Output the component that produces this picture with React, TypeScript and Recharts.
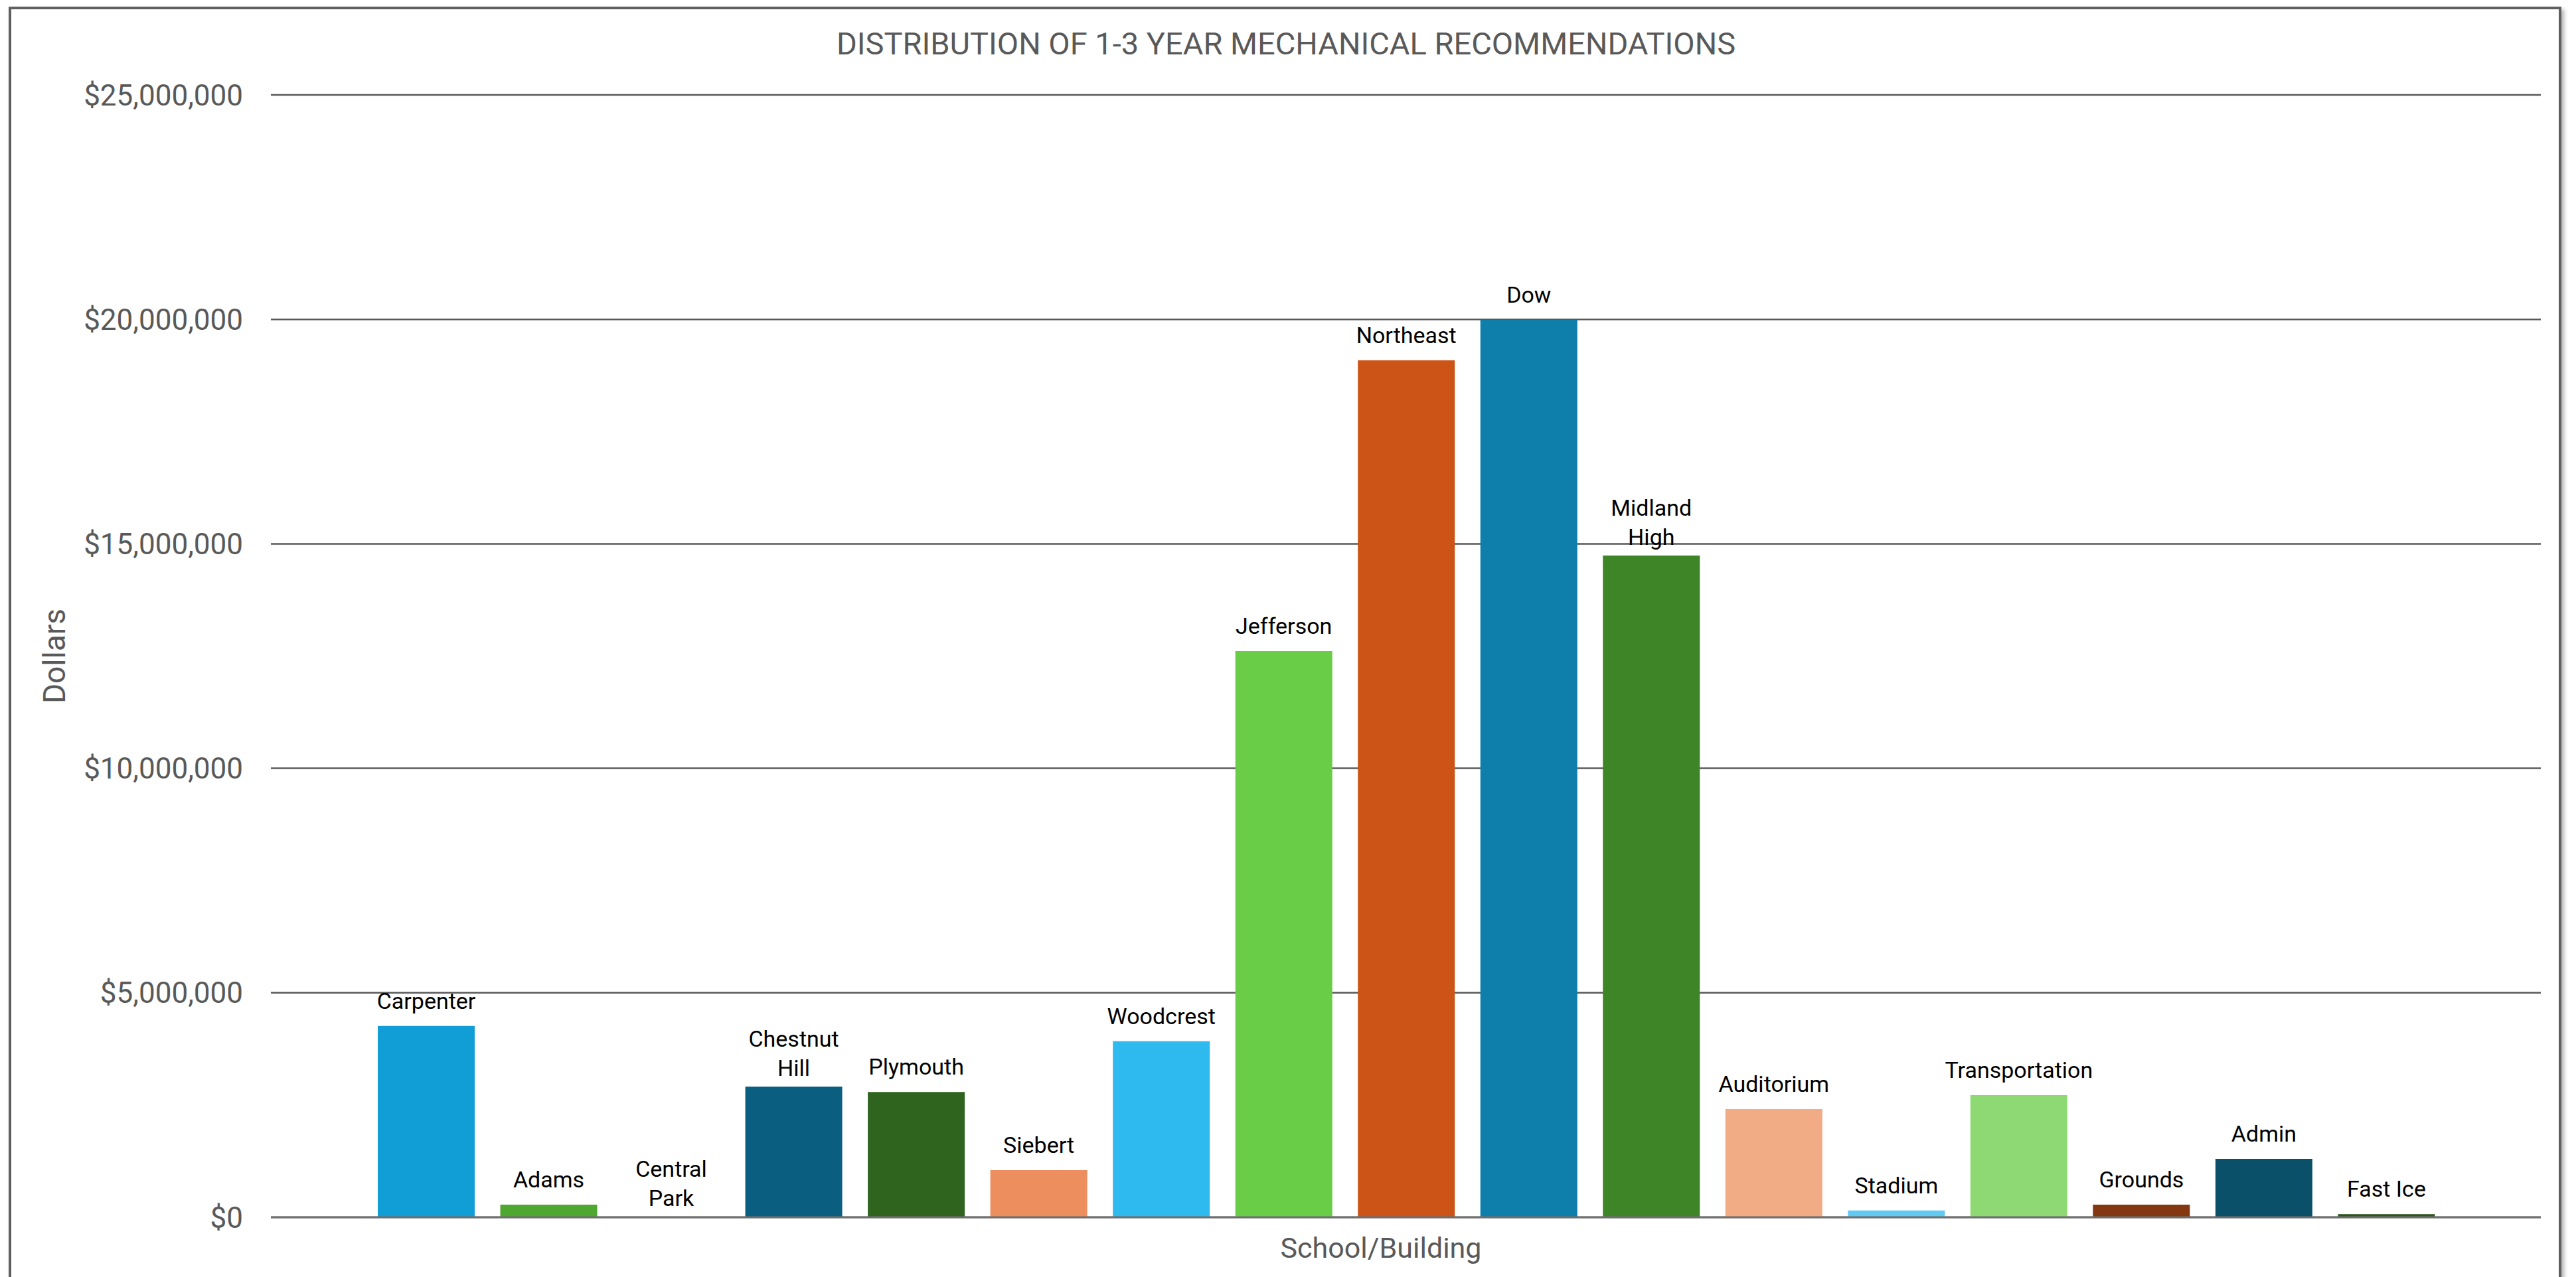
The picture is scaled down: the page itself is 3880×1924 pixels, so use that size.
import { BarChart, Bar, XAxis, YAxis, CartesianGrid, Cell, LabelList } from "recharts";

const schools = [
  "Carpenter",
  "Adams",
  "Central Park",
  "Chestnut Hill",
  "Plymouth",
  "Siebert",
  "Woodcrest",
  "Jefferson",
  "Northeast",
  "Dow",
  "Midland High",
  "Auditorium",
  "Stadium",
  "Transportation",
  "Grounds",
  "Admin",
  "Fast Ice",
];

const dollars = [
  4260000, 280000, 0, 2910000, 2790000, 1050000, 3920000, 12610000, 19090000,
  19990000, 14740000, 2410000, 150000, 2720000, 280000, 1300000, 70000,
];

const barColors = [
  "#119ED6", "#4EA72E", "#E97132", "#0A5E7F", "#2F641E", "#ED8E5E",
  "#2EBAEE", "#6ACD48", "#CB5416", "#0D7FAA", "#3E8527", "#F1AB85",
  "#60CAF3", "#8FD975", "#843811", "#0A5069", "#2B5619",
];

// names that Excel wrapped onto two lines
const wrapped = ["Central Park", "Chestnut Hill", "Midland High"];

const yTicks = [0, 5000000, 10000000, 15000000, 20000000, 25000000];

const data = schools.map((name, i) => ({ name, value: dollars[i] }));

const FONT = "Roboto, 'Liberation Sans', sans-serif";
const GREY = "#595959";

function BarName(props: any) {
  const { x, y, width, height, value } = props;
  const lines: string[] = wrapped.includes(value) ? value.split(" ") : [value];
  const cx = x + width / 2;
  // y/height can be flipped for tiny bars, take the top edge
  const top = Math.min(y, y + (height || 0));
  const last = top - (lines.length > 1 ? 16 : 26);
  return (
    <text textAnchor="middle" fontFamily={FONT} fontSize={34} fill="#000">
      {lines.map((line, i) => (
        <tspan key={line} x={cx} y={last - (lines.length - 1 - i) * 44}>
          {line}
        </tspan>
      ))}
    </text>
  );
}

export default function App() {
  return (
    <div
      style={{
        position: "absolute",
        left: 0,
        top: 0,
        width: 3880,
        height: 1924,
        overflow: "hidden",
        background: "#fff",
      }}
    >
      <div
        style={{
          position: "absolute",
          left: 13,
          top: 10,
          width: 3837,
          height: 2000,
          border: "4px solid #5f5f5f",
          boxShadow: "4px 4px 6px rgba(0,0,0,0.3)",
        }}
      />
      <svg
        width={3880}
        height={120}
        style={{ position: "absolute", left: 0, top: 0 }}
      >
        <text
          x={1937}
          y={82}
          textAnchor="middle"
          fontFamily={FONT}
          fontSize={47}
          fill={GREY}
        >
          DISTRIBUTION OF 1-3 YEAR MECHANICAL RECOMMENDATIONS
        </text>
      </svg>
      <div style={{ position: "absolute", left: 0, top: 0 }}>
        <BarChart
          width={3880}
          height={1924}
          data={data}
          margin={{ top: 143, right: 53, left: 0, bottom: 0 }}
        >
          <CartesianGrid
            vertical={false}
            stroke={GREY}
            strokeWidth={2.5}
            strokeOpacity={1}
          />
          <YAxis
            width={408}
            domain={[0, 25000000]}
            ticks={yTicks}
            interval={0}
            axisLine={false}
            tickLine={false}
            tickMargin={36}
            tick={{ fontFamily: FONT, fontSize: 44, fill: GREY }}
            tickFormatter={(v: number) => `$${v.toLocaleString("en-US")}`}
            label={{
              content: ({ viewBox }: any) => {
                const cx = viewBox.x + 98;
                const cy = viewBox.y + viewBox.height / 2;
                return (
                  <text
                    x={cx}
                    y={cy}
                    transform={`rotate(-90 ${cx} ${cy})`}
                    textAnchor="middle"
                    fontFamily={FONT}
                    fontSize={46}
                    fill={GREY}
                  >
                    Dollars
                  </text>
                );
              },
            }}
          />
          <Bar
            dataKey="value"
            barSize={146}
            minPointSize={1}
            isAnimationActive={false}
          >
            {data.map((d, i) => (
              <Cell key={d.name} fill={barColors[i]} />
            ))}
            <LabelList dataKey="name" content={BarName} />
          </Bar>
          <XAxis
            dataKey="name"
            height={90}
            tick={false}
            tickLine={false}
            axisLine={{ stroke: "#6e6e6e", strokeWidth: 3 }}
            padding={{ left: 142, right: 140 }}
            label={{
              content: ({ viewBox }: any) => (
                <text
                  x={2080}
                  y={viewBox.y + 61}
                  textAnchor="middle"
                  fontFamily={FONT}
                  fontSize={43}
                  fill={GREY}
                >
                  School/Building
                </text>
              ),
            }}
          />
        </BarChart>
      </div>
    </div>
  );
}
